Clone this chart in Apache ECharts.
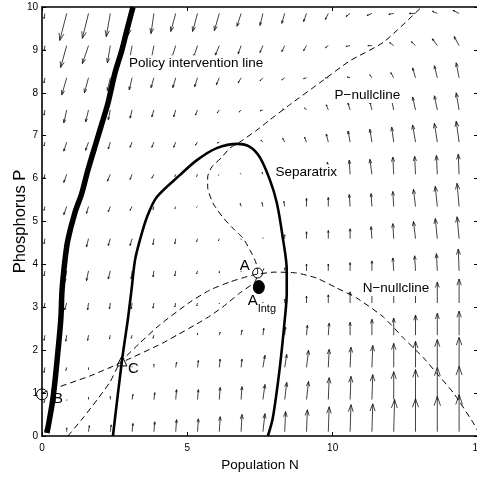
<!DOCTYPE html>
<html><head><meta charset="utf-8">
<script src="https://cdn.jsdelivr.net/npm/echarts@6/dist/echarts.min.js"></script>
<style>html,body{margin:0;padding:0;background:#fff}#c{width:477px;height:478px}</style>
</head><body><div id="c"></div>
<script>
// ---- quiver grid (population N, phosphorus P) ----
const gridN = [0.1,0.85,1.6,2.35,3.1,3.85,4.6,5.35,6.1,6.85,7.6,8.35,9.1,9.85,10.6,11.35,12.1,12.85,13.6,14.35];
const gridP = [0.1,0.85,1.6,2.35,3.1,3.85,4.6,5.35,6.1,6.85,7.6,8.35,9.1,9.85];
// arrow components (data units), one row per gridP value (bottom to top)
const arrowDN = [
 [0,0,0.03,0.03,0.03,0.03,0.03,0.03,0.03,0.03,0.07,0.03,0.03,0.03,0.03,0.03,0.03,0,0,0],
 [-0.03,0,0,0,0.03,0.03,0.03,0.03,0.03,0.03,0.07,0.07,0.07,0.03,0.03,0.03,0,0,0,0],
 [-0.03,-0.03,0,0,0,0,0.03,0.03,0.03,0.03,0.07,0.07,0.07,0.03,0.03,0.03,0,0,0,0],
 [-0.03,-0.03,-0.03,-0.03,-0.03,-0.03,0,0,0.03,0.03,0.03,0.03,0.03,0.03,0,0,0,0,0,0],
 [-0.03,-0.07,-0.03,-0.03,-0.03,-0.03,-0.03,-0.03,0,0,0,0,0,0,0,0,0,0,0,0],
 [-0.03,-0.07,-0.07,-0.07,-0.03,-0.03,-0.03,-0.03,0,0,0.03,0,0,0,0,0,-0.03,-0.03,-0.03,-0.03],
 [-0.03,-0.07,-0.07,-0.07,-0.07,-0.03,-0.03,-0.03,-0.03,0,0,0,0,0,0,-0.03,-0.03,-0.07,-0.07,-0.07],
 [-0.03,-0.10,-0.07,-0.07,-0.07,-0.03,-0.03,-0.03,0,-0.03,-0.03,-0.03,0,0,-0.03,-0.03,-0.03,-0.07,-0.07,-0.07],
 [-0.03,-0.10,-0.10,-0.10,-0.07,-0.07,-0.03,-0.03,-0.03,-0.03,-0.03,-0.03,-0.03,-0.03,-0.03,-0.07,-0.03,-0.03,-0.03,-0.03],
 [-0.03,-0.10,-0.10,-0.07,-0.07,-0.07,-0.07,-0.07,-0.07,-0.03,-0.07,-0.07,-0.07,-0.07,-0.07,-0.07,-0.07,-0.10,-0.10,-0.10],
 [-0.03,-0.10,-0.10,-0.07,-0.07,-0.07,-0.07,-0.07,-0.07,-0.07,-0.10,-0.07,-0.07,-0.07,-0.07,-0.07,-0.07,-0.10,-0.10,-0.10],
 [-0.03,-0.17,-0.14,-0.10,-0.10,-0.10,-0.10,-0.10,-0.10,-0.10,-0.10,-0.10,-0.10,-0.10,-0.10,-0.07,-0.10,-0.10,-0.10,-0.10],
 [-0.03,-0.21,-0.21,-0.10,-0.10,-0.10,-0.14,-0.14,-0.14,-0.10,-0.10,-0.10,-0.10,-0.10,-0.14,-0.14,-0.14,-0.14,-0.17,-0.17],
 [-0.03,-0.24,-0.21,-0.14,-0.14,-0.10,-0.17,-0.17,-0.17,-0.14,-0.10,-0.10,-0.10,-0.10,-0.14,-0.17,-0.17,-0.21,-0.17,-0.21]
];
const arrowDP = [
 [0.05,0.09,0.14,0.16,0.19,0.23,0.28,0.30,0.35,0.40,0.42,0.47,0.51,0.58,0.63,0.65,0.75,0.77,0.82,0.86],
 [-0.07,-0.02,0.05,0.07,0.12,0.16,0.23,0.23,0.28,0.30,0.35,0.40,0.42,0.51,0.54,0.58,0.65,0.70,0.75,0.77],
 [-0.12,-0.07,-0.05,-0.02,0.02,0.07,0.12,0.16,0.19,0.19,0.28,0.30,0.40,0.42,0.47,0.51,0.56,0.61,0.65,0.70],
 [-0.12,-0.14,-0.12,-0.09,-0.07,-0.07,-0.02,0.05,0.07,0.12,0.16,0.19,0.23,0.28,0.30,0.37,0.40,0.47,0.51,0.56],
 [-0.12,-0.16,-0.16,-0.14,-0.14,-0.12,-0.09,-0.07,-0.02,-0.01,0.02,0.09,0.16,0.19,0.26,0.33,0.40,0.44,0.49,0.56],
 [-0.12,-0.26,-0.23,-0.19,-0.19,-0.14,-0.12,-0.07,-0.05,-0.02,0.05,0.07,0.16,0.16,0.19,0.23,0.30,0.35,0.40,0.51],
 [-0.12,-0.21,-0.19,-0.16,-0.16,-0.14,-0.12,-0.07,-0.05,-0.02,0.02,0.09,0.16,0.19,0.23,0.28,0.35,0.40,0.47,0.51],
 [-0.09,-0.19,-0.16,-0.12,-0.09,-0.07,-0.05,-0.02,-0.01,0.07,0.09,0.12,0.19,0.21,0.28,0.30,0.35,0.40,0.47,0.54],
 [-0.09,-0.19,-0.19,-0.16,-0.12,-0.09,-0.05,-0.05,-0.02,0.02,0.05,0.09,0.19,0.28,0.33,0.35,0.40,0.42,0.44,0.47],
 [-0.09,-0.21,-0.19,-0.16,-0.12,-0.12,-0.12,-0.07,-0.02,0.02,0.05,0.09,0.12,0.19,0.26,0.30,0.35,0.40,0.44,0.49],
 [-0.12,-0.30,-0.28,-0.23,-0.19,-0.16,-0.16,-0.12,-0.07,-0.05,-0.02,0.02,0.05,0.12,0.16,0.19,0.23,0.30,0.33,0.40],
 [-0.12,-0.40,-0.35,-0.30,-0.28,-0.23,-0.23,-0.21,-0.16,-0.12,-0.07,-0.05,-0.02,0,0.02,0.07,0.12,0.23,0.28,0.35],
 [-0.12,-0.51,-0.42,-0.40,-0.37,-0.35,-0.30,-0.28,-0.23,-0.19,-0.16,-0.14,-0.12,-0.05,-0.02,0,0.07,0.09,0.16,0.21],
 [-0.12,-0.63,-0.58,-0.54,-0.51,-0.47,-0.42,-0.42,-0.40,-0.30,-0.28,-0.23,-0.19,-0.14,-0.07,-0.05,-0.02,0,0.05,0.07]
];
// ---- curves ----
const policyN = [0.17,0.38,0.55,0.65,0.69,0.79,0.89,1.13,1.37,1.58,1.89,2.10,2.27,2.51,2.75,2.92,3.13];
const policyP = [0.07,0.89,1.98,2.75,3.40,4.10,4.57,5.20,5.66,6.20,6.90,7.37,7.76,8.46,9.00,9.46,10.0];
const sepN = [2.44,2.75,2.96,3.09,3.20,3.37,3.61,3.95,4.74,5.33,6.01,6.74,7.15,7.49,7.84,8.08,8.28,8.42,8.42,8.35,8.18,7.94,7.77];
const sepP = [0,1.75,2.75,3.47,4.10,4.57,5.10,5.57,6.08,6.43,6.71,6.81,6.74,6.50,5.97,5.43,4.64,3.87,3.33,2.70,1.59,0.42,0];
const pNullN = [0,0.27,1.65,2.75,4.16,5.67,6.22,6.80,7.32,7.42,7.35,7.15,6.91,6.63,6.22,5.88,5.70,5.70,5.84,6.19,6.46,6.80,7.39,7.84,8.52,9.55,10.58,11.75,13.06];
const pNullP = [1.00,1.07,1.40,1.72,2.17,2.75,3.01,3.33,3.59,3.82,4.06,4.34,4.62,4.80,5.10,5.43,5.80,6.04,6.27,6.50,6.71,6.85,7.13,7.37,7.72,8.23,8.74,9.18,10.0];
const nNullN = [0.89,1.41,1.89,2.34,2.68,3.37,4.05,5.09,5.77,6.46,7.25,8.01,8.76,9.45,10.14,10.82,11.75,12.44,13.13,13.57,14.16,14.88,15];
const nNullP = [0,0.42,0.84,1.26,1.70,2.17,2.59,3.12,3.40,3.59,3.75,3.82,3.80,3.68,3.45,3.22,2.77,2.28,1.82,1.47,1.00,0.26,0.1];
// ---- equilibria ----
const pointNames = ['A','A_Intg','B','C'];
const pointN = [7.42,7.46,0,2.75];
const pointP = [3.80,3.47,0.97,1.75];
// ---- tick values ----
const xTicks = [0,5,10,15];
const yTicks = [0,1,2,3,4,5,6,7,8,9,10];

const FONT = '"Liberation Sans", Arial, Helvetica, sans-serif';
const annotations = [
  {text:'Policy intervention line', n:2.96, p:8.69, size:13.5, bg:true},
  {text:'P\u2212nullcline', n:10.03, p:7.95, size:13.5, bg:true},
  {text:'Separatrix', n:8.0, p:6.15, size:13.5, bg:true},
  {text:'N\u2212nullcline', n:11.0, p:3.45, size:13.5, bg:true},
  {text:'A', n:6.80, p:3.96, size:15, bg:false},
  {text:'A', n:7.08, p:3.15, size:15, bg:false},
  {text:'Intg', n:7.42, p:2.96, size:11, bg:false},
  {text:'B', n:0.38, p:0.87, size:15, bg:false},
  {text:'C', n:2.96, p:1.56, size:15, bg:false}
];

const quiverData = [];
for (let i = 0; i < gridP.length; i++)
  for (let j = 0; j < gridN.length; j++)
    quiverData.push([gridN[j], gridP[i], arrowDN[i][j], arrowDP[i][j]]);
const pairs = (xs, ys) => xs.map((x, i) => [x, ys[i]]);

const openStyle = {color:'rgba(0,0,0,0)', borderColor:'#000', borderWidth:1, opacity:1};
const markerStyles = {
  'A': {symbol:'circle', symbolSize:10, itemStyle:openStyle},
  'A_Intg': {symbol:'circle', symbolSize:[11,13], itemStyle:{color:'#000', borderColor:'#000', borderWidth:1, opacity:1}},
  'B': {symbol:'circle', symbolSize:11, itemStyle:openStyle},
  'C': {symbol:'triangle', symbolSize:10, itemStyle:openStyle}
};

const chart = echarts.init(document.getElementById('c'), null, {renderer:'canvas'});
const axisCommon = {
  type:'value', splitLine:{show:false},
  axisLine:{show:true, onZero:false, lineStyle:{color:'#000', width:1.6}},
  axisTick:{show:true, inside:true, length:4, lineStyle:{color:'#000', width:1}},
};
chart.setOption({
  animation:false,
  textStyle:{fontFamily:FONT},
  grid:{left:42, right:-1, top:7, bottom:42, containLabel:false, outerBoundsMode:'none'},
  xAxis:[
    Object.assign({}, axisCommon, {position:'bottom', min:xTicks[0], max:xTicks[xTicks.length-1], interval:xTicks[1]-xTicks[0],
      axisLabel:{color:'#000', fontSize:10, margin:7, fontFamily:FONT},
      name:'Population N', nameLocation:'middle', nameGap:22, nameMoveOverlap:false,
      nameTextStyle:{color:'#000', fontSize:13.5, fontFamily:FONT}}),
    Object.assign({}, axisCommon, {position:'top', min:xTicks[0], max:xTicks[xTicks.length-1], interval:xTicks[1]-xTicks[0], axisLabel:{show:false}})
  ],
  yAxis:[
    Object.assign({}, axisCommon, {position:'left', min:yTicks[0], max:yTicks[yTicks.length-1], interval:yTicks[1]-yTicks[0],
      axisLabel:{color:'#000', fontSize:10, margin:4, fontFamily:FONT},
      name:'Phosphorus P', nameLocation:'middle', nameGap:13, nameMoveOverlap:false,
      nameTextStyle:{color:'#000', fontSize:16.5, fontFamily:FONT}}),
    Object.assign({}, axisCommon, {position:'right', min:yTicks[0], max:yTicks[yTicks.length-1], interval:yTicks[1]-yTicks[0], axisLabel:{show:false}})
  ],
  series:[
    {
      type:'custom', name:'field', silent:true, clip:false, z:1,
      data:quiverData,
      encode:{x:0, y:1},
      renderItem:function(params, api){
        const n = api.value(0), p = api.value(1), dn = api.value(2), dp = api.value(3);
        const a = api.coord([n, p]);
        const b = api.coord([n + dn, p + dp]);
        const dx = b[0]-a[0], dy = b[1]-a[1];
        if (Math.hypot(dx, dy) < 0.6) return {type:'group', children:[]};
        const al = 0.26, be = 0.35;
        const h1 = [b[0]-al*(dx+be*dy), b[1]-al*(dy-be*dx)];
        const h2 = [b[0]-al*(dx-be*dy), b[1]-al*(dy+be*dx)];
        const st = {stroke:'#111', lineWidth:0.8, fill:null};
        return {type:'group', children:[
          {type:'line', shape:{x1:a[0], y1:a[1], x2:b[0], y2:b[1]}, style:st},
          {type:'polyline', shape:{points:[h1, b, h2]}, style:st}
        ]};
      }
    },
    {type:'line', name:'policy', silent:true, z:3, data:pairs(policyN, policyP), showSymbol:false, smooth:0.3,
      lineStyle:{color:'#000', width:5.5, cap:'butt'}},
    {type:'line', name:'separatrix', silent:true, z:3, data:pairs(sepN, sepP), showSymbol:false, smooth:0.3,
      lineStyle:{color:'#000', width:2.6}},
    {type:'line', name:'P-nullcline', silent:true, z:2, data:pairs(pNullN, pNullP), showSymbol:false, smooth:0.2,
      lineStyle:{color:'#000', width:1, type:[6,4]}},
    {type:'line', name:'N-nullcline', silent:true, z:2, data:pairs(nNullN, nNullP), showSymbol:false, smooth:0.2,
      lineStyle:{color:'#000', width:1, type:[6,4]}},
    {type:'scatter', name:'points', silent:true, z:4,
      data:pointNames.map((nm, i) => Object.assign({value:[pointN[i], pointP[i]]}, markerStyles[nm]))},
    {
      type:'custom', name:'labels', silent:true, clip:false, z:5,
      data:annotations.map((a, i) => [a.n, a.p, i]),
      encode:{x:0, y:1},
      renderItem:function(params, api){
        const a = annotations[api.value(2)];
        const pt = api.coord([api.value(0), api.value(1)]);
        return {type:'text', x:pt[0], y:pt[1], style:{
          text:a.text, fill:'#000', font:a.size + 'px ' + FONT,
          align:'left', verticalAlign:'middle',
          backgroundColor:a.bg ? '#fff' : null, padding:a.bg ? [1,1,1,1] : 0
        }};
      }
    }
  ]
});
</script></body></html>
